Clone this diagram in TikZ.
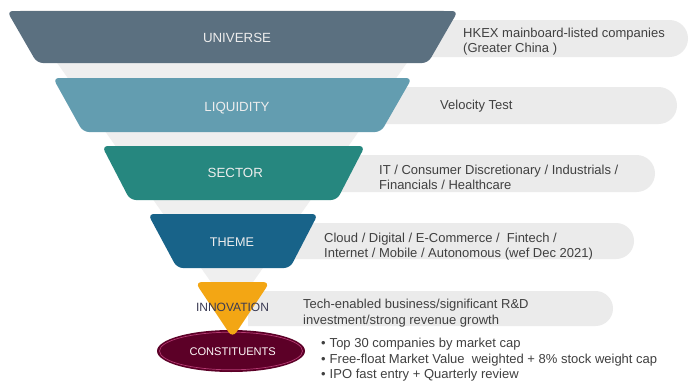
\documentclass[tikz,border=0pt]{standalone}
\usepackage{fontspec}
\setmainfont{Liberation Sans}
\definecolor{funnelgrey}{HTML}{EFEFEF}
\definecolor{bargrey}{HTML}{EBEBEB}
\definecolor{cuniverse}{HTML}{5B7080}
\definecolor{cliquidity}{HTML}{639DB0}
\definecolor{csector}{HTML}{26877F}
\definecolor{ctheme}{HTML}{186389}
\definecolor{cinnov}{HTML}{F3A614}
\definecolor{cconst}{HTML}{5C0027}
\definecolor{cring}{HTML}{B53A72}
\definecolor{labeltxt}{HTML}{EDEDED}
\definecolor{desctxt}{HTML}{404040}
\tikzset{
  lvl/.style={inner sep=0pt, anchor=base, text=labeltxt, font=\fontsize{13.3}{15}\selectfont},
  desc/.style={inner sep=0pt, anchor=west, align=left, text=desctxt, font=\fontsize{13}{15.5}\selectfont},
  bar/.style={fill=bargrey},
}
\begin{document}
\begin{tikzpicture}[x=1pt,y=-1pt]
\useasboundingbox[fill=white] (0,0) rectangle (689,383);
% grey funnel
\fill[funnelgrey] (20,10) -- (444,10) -- (232,312) -- cycle;
% bars
\fill[bar] (232,20) -- (669.5,20) arc[start angle=-90,end angle=90,radius=18.5] -- (232,57) -- cycle;
\fill[bar] (232,87) -- (658.5,87) arc[start angle=-90,end angle=90,radius=18.5] -- (232,124) -- cycle;
\fill[bar] (232,155) -- (636.5,155) arc[start angle=-90,end angle=90,radius=18.5] -- (232,192) -- cycle;
\fill[bar] (232,223) -- (616,223) arc[start angle=-90,end angle=90,radius=18] -- (232,259) -- cycle;
\fill[bar] (248,291) -- (595.5,291) arc[start angle=-90,end angle=90,radius=17.5] -- (248,326) -- cycle;
% trapezoids
\fill[cuniverse, rounded corners=6] (7,11) -- (458,11) -- (428,63) -- (37,63) -- cycle;
\fill[cliquidity, rounded corners=6] (53,78) -- (412,78) -- (381,132) -- (83,132) -- cycle;
\fill[csector, rounded corners=6] (102,146) -- (365,146) -- (337,200) -- (130,200) -- cycle;
\fill[ctheme, rounded corners=6] (148,214) -- (318,214) -- (290,268) -- (177,268) -- cycle;
% constituents ellipse
\fill[cconst] (231,351) ellipse [x radius=74, y radius=21];
\draw[cring, line width=0.7pt] (231,351) ellipse [x radius=71.5, y radius=18.8];
% innovation triangle
\fill[cinnov, rounded corners=7] (195,282) -- (270,282) -- (232.5,338) -- cycle;
% labels
\node[lvl] (universe) at (237,42.7) {UNIVERSE};
\node[lvl] (liquidity) at (237,111) {LIQUIDITY};
\node[lvl] (sector) at (235.3,177.3) {SECTOR};
\node[lvl, font=\fontsize{12.6}{15}\selectfont] (theme) at (232,246) {THEME};
\node[lvl, text=desctxt!90!blue, font=\fontsize{12}{15}\selectfont] (innovation) at (232.5,311) {INNOVATION};
\node[lvl, text=white!92!pink, font=\fontsize{11.1}{14}\selectfont] (constituents) at (232.7,355) {CONSTITUENTS};
% descriptions
\node[desc] (dUniverse) at (463,41.5) {HKEX mainboard-listed companies\\(Greater China )};
\node[desc] (dLiquidity) at (440,106.5) {Velocity Test};
\node[desc] (dSector) at (379,177.5) {IT / Consumer Discretionary / Industrials /\\Financials / Healthcare};
\node[desc] (dTheme) at (324,246.5) {Cloud / Digital / E-Commerce /\ \ Fintech /\\Internet / Mobile / Autonomous (wef Dec 2021)};
\node[desc] (dInnov) at (303,313) {Tech-enabled business/significant R\&D\\investment/strong revenue growth};
\node[desc, font=\fontsize{13}{15.8}\selectfont] (dConst) at (321,359.8) {•\hspace{4pt}Top 30 companies by market cap\\•\hspace{4pt}Free-float Market Value\ \ weighted + 8\% stock weight cap\\•\hspace{4pt}IPO fast entry + Quarterly review};
\end{tikzpicture}
\end{document}
